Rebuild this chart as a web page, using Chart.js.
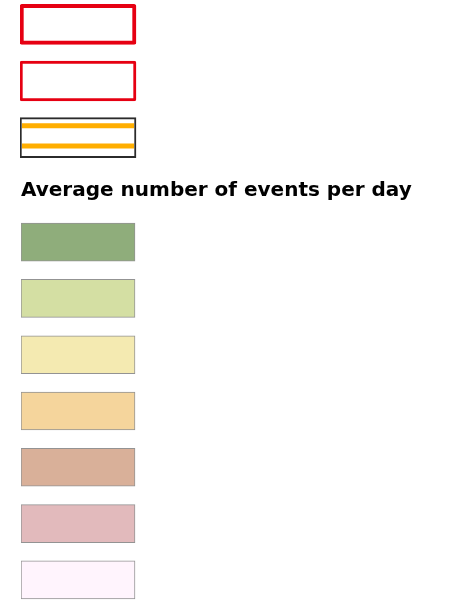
<!DOCTYPE html>
<html>
<head>
<meta charset="utf-8">
<script src="https://cdn.jsdelivr.net/npm/chart.js@4.4.1/dist/chart.umd.min.js"></script>
<style>
  html, body { margin: 0; padding: 0; background: #fff; width: 461px; height: 607px; overflow: hidden; }
  .box { position: absolute; left: 0; width: 461px; }
</style>
</head>
<body>
<div class="box" style="top:-4px;height:170px;"><canvas id="top"></canvas></div>
<div class="box" style="top:170px;height:438px;"><canvas id="bottom"></canvas></div>
<script>
// Outline legend symbols (top group)
const outlineCategories = ['Outline A', 'Outline B', 'Outline C'];
const outlineValues = [1, 1, 1];
const outlineFills = ['#ffffff', '#ffffff', '#ffffff'];
const outlineBorders = ['#e60012', '#e60012', '#2b2b2b'];
const outlineBorderWidths = [4, 3, 2];

// Class legend (Average number of events per day)
const legendTitle = 'Average number of events per day';
const classCategories = ['Class 1', 'Class 2', 'Class 3', 'Class 4', 'Class 5', 'Class 6', 'Class 7'];
const classValues = [1, 1, 1, 1, 1, 1, 1];
const classColors = ['#8fad7b', '#d4dfa3', '#f4eab1', '#f5d59c', '#d9b099', '#e2babc', '#fff4fd'];

Chart.defaults.animation = false;

const stripePlugin = {
  id: 'stripes',
  afterDatasetsDraw(chart) {
    const el = chart.getDatasetMeta(0).data[2];
    if (!el) return;
    const p = el.getProps(['x', 'y', 'base', 'height'], true);
    const top = p.y - p.height / 2;
    const ctx = chart.ctx;
    ctx.save();
    ctx.strokeStyle = '#ffae00';
    ctx.lineWidth = 5;
    [0.2, 0.71].forEach(f => {
      const yy = top + p.height * f;
      ctx.beginPath();
      ctx.moveTo(p.base + 2, yy);
      ctx.lineTo(p.x - 2, yy);
      ctx.stroke();
    });
    ctx.restore();
  }
};

function scalesWithMax(max) {
  return {
    x: { display: false, min: 0, max: max, grid: { display: false } },
    y: { display: false, grid: { display: false } }
  };
}

new Chart(document.getElementById('top'), {
  type: 'bar',
  data: {
    labels: outlineCategories,
    datasets: [{
      data: outlineValues,
      backgroundColor: outlineFills,
      borderColor: outlineBorders,
      borderWidth: outlineBorderWidths,
      borderRadius: [2, 2, 0],
      borderSkipped: false,
      barThickness: 40
    }]
  },
  options: {
    indexAxis: 'y',
    responsive: true,
    maintainAspectRatio: false,
    layout: { padding: { left: 20, right: 0, top: 0, bottom: 0 } },
    scales: scalesWithMax(441 / 116),
    plugins: { legend: { display: false }, tooltip: { enabled: false }, title: { display: false } }
  },
  plugins: [stripePlugin]
});

new Chart(document.getElementById('bottom'), {
  type: 'bar',
  data: {
    labels: classCategories,
    datasets: [{
      data: classValues,
      backgroundColor: classColors,
      borderColor: '#939393',
      borderWidth: 1,
      borderSkipped: false,
      barThickness: 38
    }]
  },
  options: {
    indexAxis: 'y',
    responsive: true,
    maintainAspectRatio: false,
    layout: { padding: { left: 21, right: 0, top: 0, bottom: 0 } },
    scales: scalesWithMax(440 / 114),
    plugins: {
      legend: { display: false },
      tooltip: { enabled: false },
      title: {
        display: true,
        text: legendTitle,
        align: 'start',
        color: '#000000',
        font: { family: '"DejaVu Sans", sans-serif', size: 20, weight: 'bold', lineHeight: 1.2 },
        padding: { top: 9, bottom: 11 }
      }
    }
  }
});
</script>
</body>
</html>
